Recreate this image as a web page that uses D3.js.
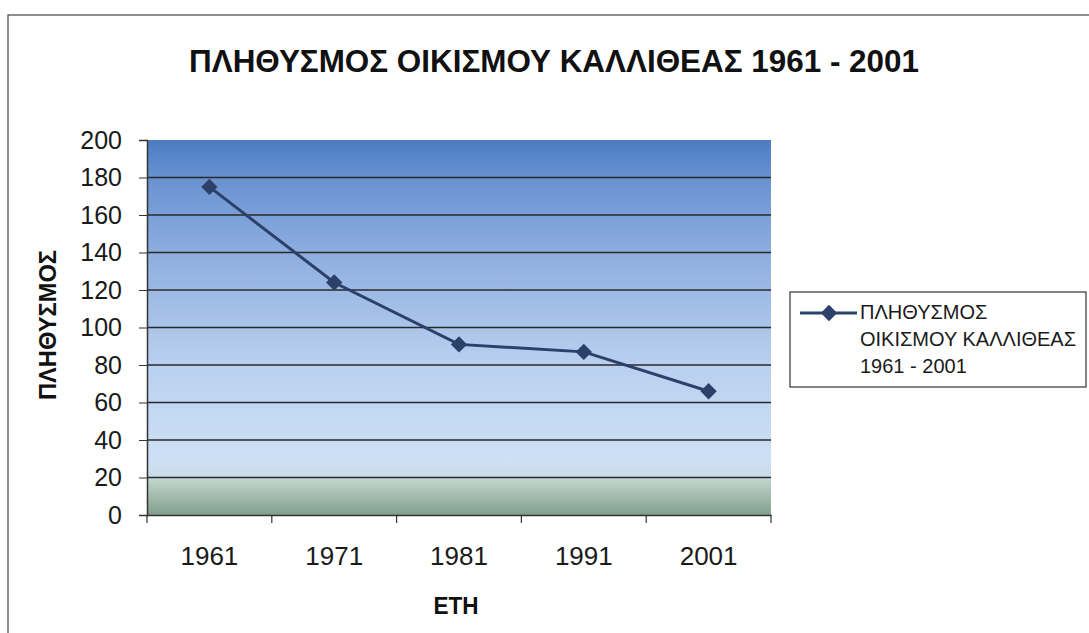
<!DOCTYPE html>
<html lang="el">
<head>
<meta charset="UTF-8">
<title>ΠΛΗΘΥΣΜΟΣ ΟΙΚΙΣΜΟΥ ΚΑΛΛΙΘΕΑΣ</title>
<script src="https://d3js.org/d3.v7.min.js"></script>
<style>
  html, body { margin: 0; padding: 0; background: #fff; }
  svg { display: block; font-family: 'Liberation Sans', Arial, sans-serif; }
</style>
</head>
<body>
<div id="chart"></div>
<script>
// data
const years = ['1961', '1971', '1981', '1991', '2001'];
const population = [175, 124, 91, 87, 66];
const yTicks = [0, 20, 40, 60, 80, 100, 120, 140, 160, 180, 200];
const seriesName = ['ΠΛΗΘΥΣΜΟΣ', 'ΟΙΚΙΣΜΟΥ ΚΑΛΛΙΘΕΑΣ', '1961 - 2001'];

const W = 1089, H = 633;
const plot = {left: 147, top: 140, right: 771, bottom: 515};
const FONT = "'Liberation Sans', Arial, sans-serif";

const svg = d3.select('#chart').append('svg')
  .attr('width', W).attr('height', H);

// outer chart frame
svg.append('rect')
  .attr('x', 8).attr('y', 15).attr('width', W + 20).attr('height', H + 20)
  .attr('fill', 'none').attr('stroke', '#444').attr('stroke-width', 1.2);

// background gradient of the plot area
const defs = svg.append('defs');
const grad = defs.append('linearGradient').attr('id', 'bg')
  .attr('x1', 0).attr('y1', 0).attr('x2', 0).attr('y2', 1);
[[0, '#4d7cc4'], [0.12, '#6d95d3'], [0.35, '#95b4e2'], [0.6, '#b9d0ef'],
 [0.85, '#cde0f5'], [0.895, '#cbdcea'], [0.91, '#bdd2c8'], [1, '#819f8d']]
  .forEach(([o, c]) => grad.append('stop').attr('offset', o).attr('stop-color', c));

const x = d3.scaleBand().domain(years).range([plot.left, plot.right]);
const y = d3.scaleLinear().domain([0, 200]).range([plot.bottom, plot.top]);

svg.append('rect')
  .attr('x', plot.left).attr('y', plot.top)
  .attr('width', plot.right - plot.left).attr('height', plot.bottom - plot.top)
  .attr('fill', 'url(#bg)');

// gridlines
svg.append('g')
  .selectAll('line').data(yTicks.filter(d => d > 0 && d < 200)).join('line')
  .attr('x1', plot.left).attr('x2', plot.right)
  .attr('y1', d => y(d)).attr('y2', d => y(d))
  .attr('stroke', '#2a2a2a').attr('stroke-width', 1.4);

// y axis
const yAxis = svg.append('g')
  .attr('transform', `translate(${plot.left},0)`)
  .call(d3.axisLeft(y).tickValues(yTicks).tickSize(8).tickPadding(17));
yAxis.select('.domain').attr('stroke', '#333').attr('stroke-width', 1.5);
yAxis.selectAll('.tick line').attr('stroke', '#333');
yAxis.selectAll('text').attr('font-size', 25).attr('fill', '#1a1a1a')
  .attr('font-family', FONT);

// x axis, ticks between categories
const xAxis = svg.append('g')
  .attr('transform', `translate(0,${plot.bottom})`)
  .call(d3.axisBottom(x).tickSize(0).tickPadding(32));
xAxis.select('.domain').attr('stroke', '#333').attr('stroke-width', 1.5);
xAxis.selectAll('text').attr('font-size', 26).attr('fill', '#1a1a1a')
  .attr('font-family', FONT);
svg.append('g').selectAll('line')
  .data(d3.range(years.length + 1)).join('line')
  .attr('x1', i => plot.left + i * x.step()).attr('x2', i => plot.left + i * x.step())
  .attr('y1', plot.bottom).attr('y2', plot.bottom + 8)
  .attr('stroke', '#333').attr('stroke-width', 1.2);

// series line
const line = d3.line()
  .x((d, i) => x(years[i]) + x.bandwidth() / 2)
  .y(d => y(d));
svg.append('path').datum(population)
  .attr('d', line)
  .attr('fill', 'none').attr('stroke', '#2c406a').attr('stroke-width', 3);

const diamond = d3.symbol().type(d3.symbolDiamond2).size(170);
svg.append('g').selectAll('path').data(population).join('path')
  .attr('transform', (d, i) => `translate(${x(years[i]) + x.bandwidth() / 2},${y(d)})`)
  .attr('d', diamond)
  .attr('fill', '#2c406a');

// title
svg.append('text')
  .attr('x', 554).attr('y', 72)
  .attr('text-anchor', 'middle')
  .attr('font-size', 32).attr('font-weight', 'bold').attr('fill', '#111')
  .attr('textLength', 730).attr('lengthAdjust', 'spacingAndGlyphs')
  .text('ΠΛΗΘΥΣΜΟΣ ΟΙΚΙΣΜΟΥ ΚΑΛΛΙΘΕΑΣ 1961 - 2001');

// axis titles
svg.append('text')
  .attr('x', 456).attr('y', 614)
  .attr('text-anchor', 'middle')
  .attr('font-size', 23).attr('font-weight', 'bold').attr('fill', '#111')
  .attr('textLength', 45).attr('lengthAdjust', 'spacingAndGlyphs')
  .text('ΕΤΗ');

svg.append('text')
  .attr('transform', 'translate(56,325) rotate(-90)')
  .attr('text-anchor', 'middle')
  .attr('font-size', 23).attr('font-weight', 'bold').attr('fill', '#111')
  .attr('textLength', 150).attr('lengthAdjust', 'spacingAndGlyphs')
  .text('ΠΛΗΘΥΣΜΟΣ');

// legend
const lg = svg.append('g').attr('transform', 'translate(790,292)');
lg.append('rect')
  .attr('width', 296).attr('height', 95)
  .attr('fill', '#fff').attr('stroke', '#333').attr('stroke-width', 1.2);
lg.append('line')
  .attr('x1', 10).attr('x2', 67).attr('y1', 21).attr('y2', 21)
  .attr('stroke', '#2c406a').attr('stroke-width', 3);
lg.append('path')
  .attr('transform', 'translate(39,21)')
  .attr('d', diamond).attr('fill', '#2c406a');
lg.selectAll('text.lab').data(seriesName).join('text')
  .attr('class', 'lab')
  .attr('x', 70).attr('y', (d, i) => 27 + i * 27)
  .attr('font-size', 20).attr('fill', '#1a1a1a')
  .text(d => d);
</script>
</body>
</html>
